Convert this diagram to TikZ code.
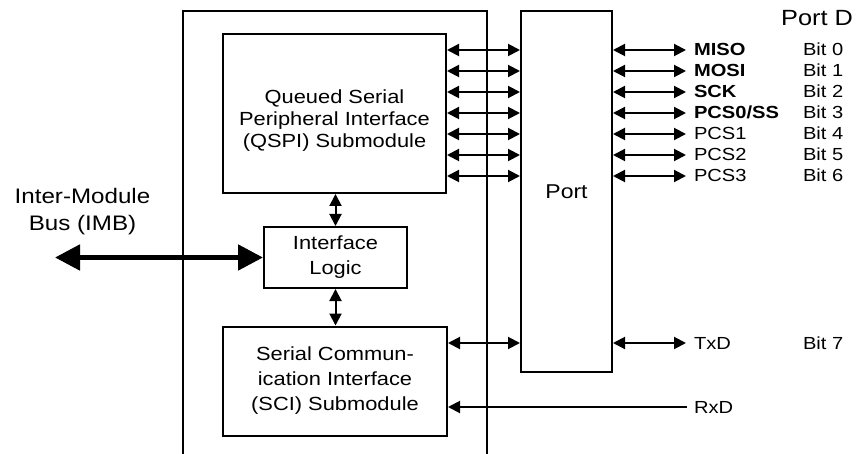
\documentclass[tikz,border=0pt]{standalone}
\usepackage{fontspec}
\setmainfont{Liberation Sans}[FakeStretch=1.15]
\usetikzlibrary{arrows.meta}

\begin{document}
\begin{tikzpicture}[x=1pt,y=-1pt,line width=2pt,
  block/.style={draw,line width=2pt,align=center,inner sep=0pt,font=\fontsize{19}{25}\selectfont},
  pin/.style={anchor=west,inner sep=0pt,text height=12pt,text depth=0pt,font=\fontsize{17.5}{20}\selectfont},
  sig/.style={{Triangle[length=12pt,width=12pt]}-{Triangle[length=12pt,width=12pt]}},
  sigin/.style={-{Triangle[length=12pt,width=12pt]}},
  imb/.style={line width=5pt,{Triangle[length=25pt,width=25pt]}-{Triangle[length=25pt,width=25pt]}}]
\useasboundingbox (0,0) rectangle (859,454);
\draw (183,454) -- (183,11) -- (487,11) -- (487,454);
\node [block,minimum width=223pt,minimum height=159pt] (qspi) at (334.5,113.5) {};
\node [align=center,inner sep=0pt,font=\fontsize{19}{22}\selectfont] (qspitext) at (334.5,121) {Queued Serial\\Peripheral Interface\\(QSPI) Submodule};
\node [block,minimum width=143pt,minimum height=61pt] (logic) at (335.5,257.5) {Interface\\Logic};
\node [block,minimum width=224pt,minimum height=109pt] (sci) at (335,381) {Serial Commun-\\ication Interface\\(SCI) Submodule};
\node [block,minimum width=91pt,minimum height=361pt,font=\fontsize{20}{24}\selectfont] (port) at (566.5,191.5) {Port};
\node [font=\fontsize{22}{26}\selectfont,inner sep=0pt] (portd) at (817,18) {Port D};
\node [align=center,inner sep=0pt,font=\fontsize{21}{27}\selectfont] (imbtext) at (82.5,212) {Inter-Module\\Bus (IMB)};
\coordinate (bus) at (55,257.5);
\draw [imb] (bus) -- (logic.west);
\draw [sig] (logic.north |- qspi.south) -- (logic.north);
\draw [sig] (logic.south) -- (logic.south |- sci.north);
\foreach \n/\y/\lab in {0/50/\textbf{MISO},1/71/\textbf{MOSI},2/92/\textbf{SCK},3/113/\textbf{PCS0/SS},4/134/PCS1,5/155/PCS2,6/176/PCS3}{
  \node [pin] (pin\n) at (693,\y) {\lab};
  \node [pin] (bit\n) at (802,\y) {Bit \n};
  \draw [sig] (qspi.east |- pin\n.west) -- (port.west |- pin\n.west);
  \draw [sig] (port.east |- pin\n.west) -- ([xshift=-7pt]pin\n.west);
}
\node [pin] (txd) at (693,343) {TxD};
\node [pin] (bit7) at (802,343) {Bit 7};
\draw [sig] (sci.east |- txd.west) -- (port.west |- txd.west);
\draw [sig] (port.east |- txd.west) -- ([xshift=-7pt]txd.west);
\node [pin] (rxd) at (693,407) {RxD};
\draw [sigin] ([xshift=-6pt]rxd.west) -- (sci.east |- rxd.west);
\end{tikzpicture}
\end{document}
